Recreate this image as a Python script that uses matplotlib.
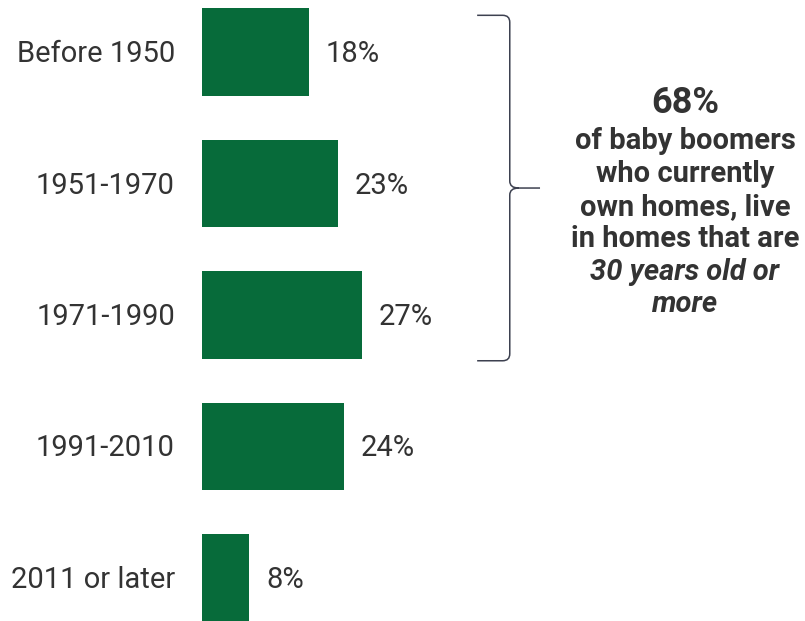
"""
Baby boomer homeowners by year the home was built - horizontal bar chart.
"""

import matplotlib
matplotlib.use("Agg")
import matplotlib.pyplot as plt
from matplotlib.path import Path
from matplotlib.patches import PathPatch

# data
categories = ["Before 1950", "1951-1970", "1971-1990", "1991-2010", "2011 or later"]
shares = [18, 23, 27, 24, 8]
value_labels = ["18%", "23%", "27%", "24%", "8%"]
callout_value = "68%"
callout_lines = ["of baby boomers", "who currently", "own homes, live", "in homes that are"]
callout_italic = ["30 years old or", "more"]

GREEN = "#076b3a"
TEXT = "#333333"
BRACKET = "#3d4150"

plt.rcParams["font.family"] = ["Roboto", "DejaVu Sans"]

W, H = 805, 621
fig = plt.figure(figsize=(W / 100, H / 100), dpi=100)
ax = fig.add_axes([202 / W, 0, (W - 202) / W, 1])

px_per_pct = 5.93
ax.set_xlim(0, (W - 202) / px_per_pct)
ax.set_ylim(4.330, -0.396)
ax.axis("off")

bar_h = 0.665
ypos = list(range(len(categories)))
ax.barh(ypos, shares, height=bar_h, color=GREEN)

for y, cat, val, lab in zip(ypos, categories, shares, value_labels):
    ax.annotate(cat, xy=(0, y), xytext=(-19.5, -1.5), textcoords="offset points",
                ha="right", va="center", fontsize=21, color=TEXT, annotation_clip=False)
    ax.annotate(lab, xy=(val, y), xytext=(12.0, -1.5), textcoords="offset points",
                ha="left", va="center", fontsize=21, color=TEXT, annotation_clip=False)

# curly bracket spanning the first three bars
top = ypos[0] - bar_h / 2 + 0.053
bot = ypos[2] + bar_h / 2 + 0.017
mid = (top + bot) / 2
r = 0.053
xl, xv, xt, xe = 46.4, 51.9, 53.4, 57.0
verts = [
    (xl, top), (xv - 1.2, top), (xv, top), (xv, top + r),
    (xv, mid - r), (xv, mid), (xt, mid), (xe, mid),
    (xt, mid), (xv, mid), (xv, mid + r),
    (xv, bot - r), (xv, bot), (xv - 1.2, bot), (xl, bot),
]
codes = [
    Path.MOVETO, Path.LINETO, Path.CURVE3, Path.CURVE3,
    Path.LINETO, Path.CURVE3, Path.CURVE3, Path.LINETO,
    Path.MOVETO, Path.CURVE3, Path.CURVE3,
    Path.LINETO, Path.CURVE3, Path.CURVE3, Path.LINETO,
]
ax.add_patch(PathPatch(Path(verts, codes), fill=False, edgecolor=BRACKET,
                       linewidth=1.1, clip_on=False))

# callout text
cx = 685 / W
fig.text(cx, 1 - 113 / H, callout_value, ha="center", va="baseline",
         fontsize=26, fontweight="bold", color=TEXT)
baselines = [149, 182, 215, 247, 280, 312]
for line, b in zip(callout_lines + callout_italic, baselines):
    style = "italic" if line in callout_italic else "normal"
    fig.text(cx, 1 - b / H, line, ha="center", va="baseline", fontsize=21,
             fontweight="bold", fontstyle=style, color=TEXT)

fig.savefig("out.png", dpi=100)
